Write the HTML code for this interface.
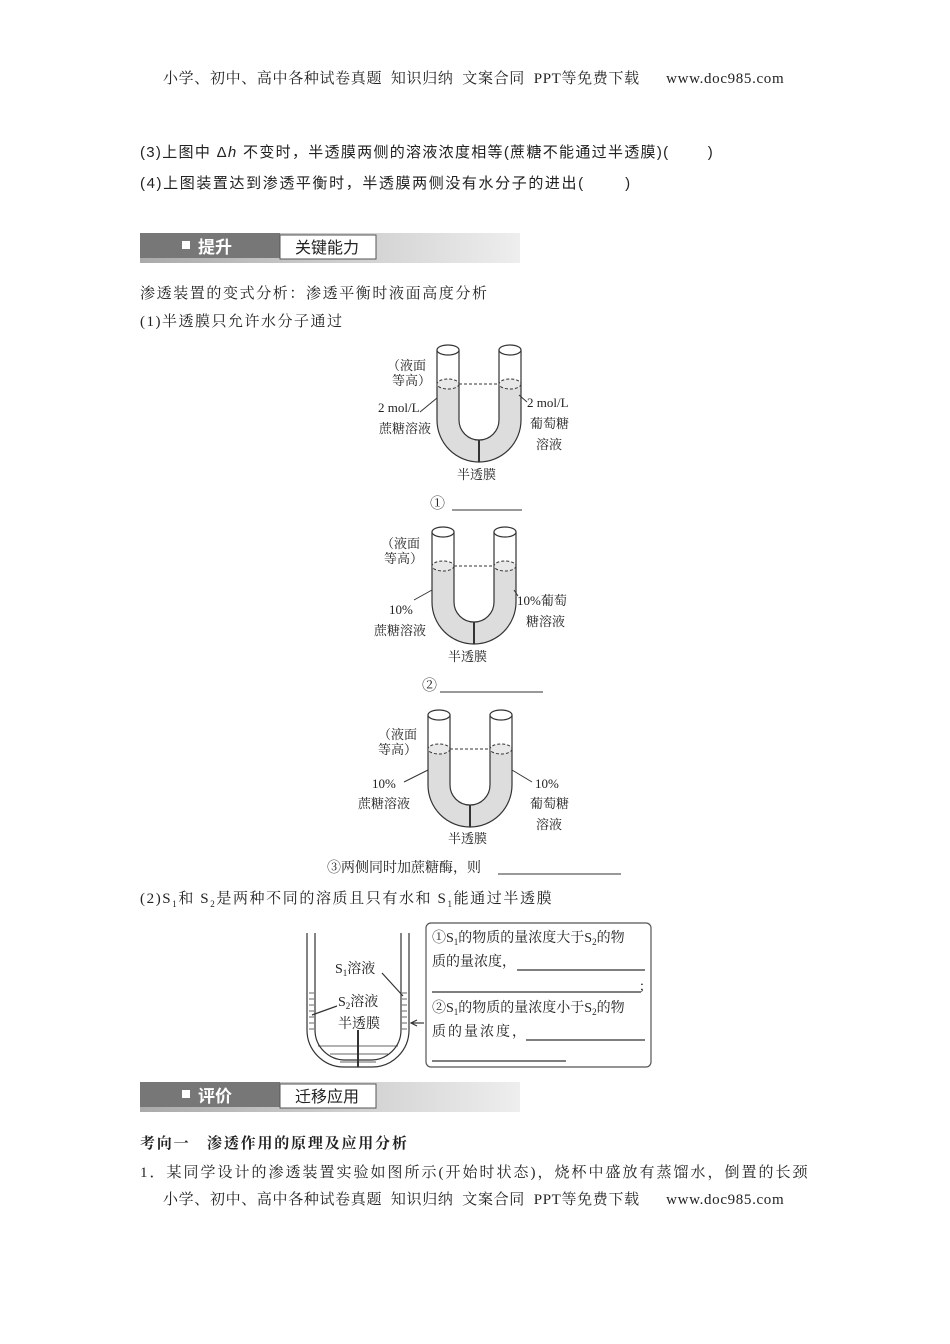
<!DOCTYPE html>
<html><head><meta charset="utf-8"><style>
body{margin:0;background:#fff;}
#p{position:relative;width:950px;height:1344px;overflow:hidden;font-family:"Liberation Serif","Noto Serif CJK SC",serif;color:#222;}
.t{position:absolute;white-space:nowrap;font-size:15px;line-height:18px;}
.s{font-family:"Liberation Sans","Noto Sans CJK SC",sans-serif;}
</style></head><body><div id="p">
<div class="t" style="left:163px;top:70px;letter-spacing:0.65px;">小学、初中、高中各种试卷真题&nbsp;&nbsp;知识归纳&nbsp;&nbsp;文案合同&nbsp;&nbsp;PPT等免费下载&nbsp;&nbsp;&nbsp;&nbsp;&nbsp;&nbsp;www.doc985.com</div>
<div class="t s" style="left:140px;top:144px;letter-spacing:1.3px;">(3)上图中 Δ<i>h</i> 不变时，半透膜两侧的溶液浓度相等(蔗糖不能通过半透膜)(&nbsp;&nbsp;&nbsp;&nbsp;&nbsp;&nbsp;&nbsp;)</div>
<div class="t s" style="left:140px;top:175px;letter-spacing:1.6px;">(4)上图装置达到渗透平衡时，半透膜两侧没有水分子的进出(&nbsp;&nbsp;&nbsp;&nbsp;&nbsp;&nbsp;&nbsp;)</div>

<svg width="950" height="1344" style="position:absolute;left:0;top:0" font-family="Liberation Serif,Noto Serif CJK SC,serif">
<defs>
<linearGradient id="g" x1="0" x2="1"><stop offset="0" stop-color="#aaa"/><stop offset="1" stop-color="#eee"/></linearGradient>
<g id="u">
<path d="M0,40 V76 A42,42 0 0 0 84,76 V40 H62 V76 A20,20 0 0 1 22,76 V40 Z" fill="#ddd"/>
<path d="M0,6 V76 A42,42 0 0 0 84,76 V6 M22,6 V76 A20,20 0 0 0 62,76 V6" fill="none" stroke="#333" stroke-width="1.2"/>
<ellipse cx="11" cy="6" rx="11" ry="5" fill="#fff" stroke="#333" stroke-width="1.2"/>
<ellipse cx="73" cy="6" rx="11" ry="5" fill="#fff" stroke="#333" stroke-width="1.2"/>
<ellipse cx="11" cy="40" rx="11" ry="5" fill="#e8e8e8" stroke="#333" stroke-dasharray="3,2"/>
<ellipse cx="73" cy="40" rx="11" ry="5" fill="#e8e8e8" stroke="#333" stroke-dasharray="3,2"/>
<line x1="22" y1="40" x2="62" y2="40" stroke="#333" stroke-dasharray="3,2"/>
<line x1="42" y1="96" x2="42" y2="118" stroke="#333" stroke-width="2"/>
</g>
</defs>
<rect x="140" y="233" width="380" height="30" fill="url(#g)"/>
<rect x="140" y="233" width="140" height="25" fill="#777"/>
<rect x="280" y="235" width="96" height="24" fill="#fff" stroke="#555"/>
<rect x="182" y="241" width="8" height="8" fill="#fff"/>
<text x="198" y="253" font-size="17" font-weight="bold" fill="#fff" font-family="Liberation Sans,Noto Sans CJK SC,sans-serif">提升</text>
<text x="295" y="253" font-size="16" fill="#222" font-family="Liberation Sans,Noto Sans CJK SC,sans-serif">关键能力</text>
<rect x="140" y="1082" width="380" height="30" fill="url(#g)"/>
<rect x="140" y="1082" width="140" height="25" fill="#777"/>
<rect x="280" y="1084" width="96" height="24" fill="#fff" stroke="#555"/>
<rect x="182" y="1090" width="8" height="8" fill="#fff"/>
<text x="198" y="1102" font-size="17" font-weight="bold" fill="#fff" font-family="Liberation Sans,Noto Sans CJK SC,sans-serif">评价</text>
<text x="295" y="1102" font-size="16" fill="#222" font-family="Liberation Sans,Noto Sans CJK SC,sans-serif">迁移应用</text>

<use href="#u" x="437" y="344"/>
<use href="#u" x="432" y="526"/>
<use href="#u" x="428" y="709"/>
<g stroke="#333" fill="none">
<line x1="420" y1="412" x2="437" y2="398"/><line x1="519" y1="395" x2="527" y2="402"/>
<line x1="414" y1="600" x2="432" y2="590"/><line x1="514" y1="590" x2="518" y2="596"/>
<line x1="404" y1="782" x2="428" y2="770"/><line x1="512" y1="770" x2="532" y2="782"/>
<line x1="452" y1="510" x2="522" y2="510"/><line x1="440" y1="692" x2="543" y2="692"/>
<line x1="498" y1="874" x2="621" y2="874"/>
</g>
<g font-size="13" fill="#222">
<text x="387" y="370">（液面</text><text x="392" y="385">等高）</text>
<text x="378" y="412">2 mol/L</text><text x="379" y="433">蔗糖溶液</text>
<text x="527" y="407">2 mol/L</text><text x="530" y="428">葡萄糖</text><text x="536" y="449">溶液</text>
<text x="457" y="479">半透膜</text><text x="430" y="508" font-size="15">①</text>
<text x="381" y="548">（液面</text><text x="384" y="563">等高）</text>
<text x="389" y="614">10%</text><text x="374" y="635">蔗糖溶液</text>
<text x="517" y="605">10%葡萄</text><text x="526" y="626">糖溶液</text>
<text x="448" y="661">半透膜</text><text x="422" y="690" font-size="15">②</text>
<text x="378" y="739">（液面</text><text x="378" y="754">等高）</text>
<text x="372" y="788">10%</text><text x="358" y="808">蔗糖溶液</text>
<text x="535" y="788">10%</text><text x="530" y="808">葡萄糖</text><text x="536" y="829">溶液</text>
<text x="448" y="843">半透膜</text>
<text x="327" y="872" font-size="14">③两侧同时加蔗糖酶，则</text>
</g>
<g stroke="#333" fill="none" stroke-width="1.2">
<path d="M307,933 V1030 A37,37 0 0 0 344,1067 H372 A37,37 0 0 0 409,1030 V933"/>
<path d="M315,933 V1030 A30,30 0 0 0 345,1060 H371 A30,30 0 0 0 401,1030 V933"/>
<path d="M309,993 H314 M309,999 H314 M309,1005 H314 M309,1011 H314 M309,1017 H314 M309,1023 H314 M309,1029 H314 M402,993 H407 M402,999 H407 M402,1005 H407 M402,1011 H407 M402,1017 H407 M402,1023 H407 M402,1029 H407 M318,1046 H398 M330,1054 H388 M340,1062 H376" stroke-width="0.8"/>
<line x1="358" y1="1030" x2="358" y2="1067" stroke-width="2"/>
<line x1="382" y1="973" x2="403" y2="996"/>
<line x1="337" y1="1006" x2="312" y2="1015"/>
<line x1="411" y1="1023" x2="424" y2="1023"/>
<path d="M417,1020 L411,1023 L417,1026"/>
<rect x="426" y="923" width="225" height="144" rx="5" stroke="#555"/>
<line x1="517" y1="970" x2="645" y2="970"/><line x1="432" y1="992" x2="641" y2="992"/>
<line x1="526" y1="1040" x2="645" y2="1040"/><line x1="432" y1="1061" x2="566" y2="1061"/>
</g>
<g font-size="14" fill="#222">
<text x="335" y="973">S<tspan font-size="9" dy="3">1</tspan><tspan dy="-3">溶液</tspan></text>
<text x="338" y="1006">S<tspan font-size="9" dy="3">2</tspan><tspan dy="-3">溶液</tspan></text>
<text x="338" y="1028">半透膜</text>
<text x="432" y="942">①S<tspan font-size="9" dy="3">1</tspan><tspan dy="-3">的物质的量浓度大于S</tspan><tspan font-size="9" dy="3">2</tspan><tspan dy="-3">的物</tspan></text>
<text x="432" y="966">质的量浓度，</text><text x="640" y="990">;</text>
<text x="432" y="1012">②S<tspan font-size="9" dy="3">1</tspan><tspan dy="-3">的物质的量浓度小于S</tspan><tspan font-size="9" dy="3">2</tspan><tspan dy="-3">的物</tspan></text>
<text x="432" y="1036" letter-spacing="2">质的量浓度，</text>
</g>
</svg>
<div class="t" style="left:140px;top:285px;letter-spacing:1.6px;">渗透装置的变式分析：渗透平衡时液面高度分析</div>
<div class="t" style="left:140px;top:313px;letter-spacing:1.5px;">(1)半透膜只允许水分子通过</div>
<div class="t" style="left:140px;top:890px;letter-spacing:1.6px;">(2)S<sub style="font-size:9px">1</sub>和 S<sub style="font-size:9px">2</sub>是两种不同的溶质且只有水和 S<sub style="font-size:9px">1</sub>能通过半透膜</div>
<div class="t" style="left:140px;top:1135px;font-weight:bold;letter-spacing:1.8px;">考向一&nbsp;&nbsp;&nbsp;渗透作用的原理及应用分析</div>
<div class="t" style="left:140px;top:1164px;letter-spacing:2px;">1．某同学设计的渗透装置实验如图所示(开始时状态)，烧杯中盛放有蒸馏水，倒置的长颈</div>
<div class="t" style="left:163px;top:1191px;letter-spacing:0.65px;">小学、初中、高中各种试卷真题&nbsp;&nbsp;知识归纳&nbsp;&nbsp;文案合同&nbsp;&nbsp;PPT等免费下载&nbsp;&nbsp;&nbsp;&nbsp;&nbsp;&nbsp;www.doc985.com</div>
</div></body></html>
